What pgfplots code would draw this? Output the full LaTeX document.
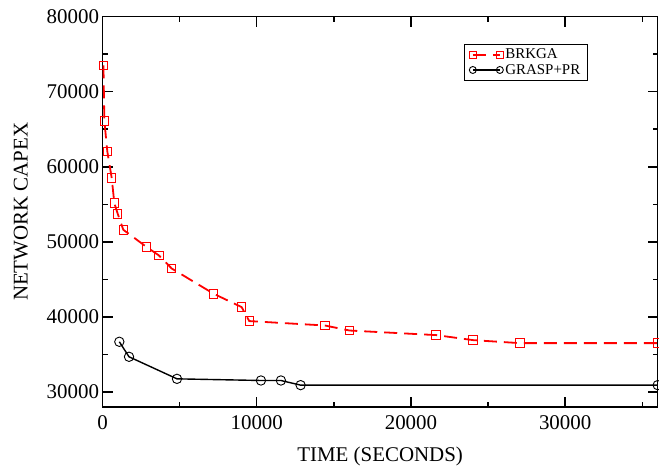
\documentclass[border=0pt]{standalone}
\usepackage{fontspec}
\setmainfont{Liberation Serif}
\usepackage{pgfplots}
\pgfplotsset{compat=1.18}
\pgfplotstableread{
x y
60 73500
117 66130
311 62040
596 58490
765 55160
985 53730
1348 51600
2839 49330
3662 48170
4485 46440
7207 43070
9021 41290
9514 39430
14420 38840
16021 38170
21633 37560
24031 36890
27057 36490
36000 36490
}\brkga
\pgfplotstableread{
x y
1089 36670
1717 34670
4828 31730
10272 31510
11568 31510
12845 30890
36000 30890
}\grasp
\begin{document}
\begin{tikzpicture}
\begin{axis}[
 width=555bp, height=390bp, scale only axis,
 xmin=0, xmax=36000, ymin=28000, ymax=80000,
 xtick={0,10000,20000,30000}, ytick={30000,40000,50000,60000,70000,80000},
 minor xtick={5000,15000,25000,35000}, minor ytick={35000,45000,55000,65000,75000},
 tick align=inside,
 major tick length=10bp, minor tick length=5bp,
 scaled ticks=false,
 axis line style={line width=1.5bp},
 every tick/.style={black, line width=1.5bp},
 /pgf/number format/assume math mode=true,
 /pgf/number format/1000 sep={},
 tick label style={font=\fontsize{21}{23}\selectfont},
 xticklabel style={yshift=-5bp},
 label style={font=\fontsize{21}{23}\selectfont},
 xlabel={TIME (SECONDS)},
 ylabel={NETWORK CAPEX},
 xlabel style={yshift=-11bp},
 ylabel style={yshift=12bp},
 legend style={at={(0.651,0.930)}, anchor=north west, font=\fontsize{15}{16}\selectfont, draw=black, line width=0.8bp, inner xsep=5bp, inner ysep=2.5bp, row sep=0bp},
 legend cell align=left,
 legend image code/.code={\draw[#1, mark size=3.5bp] plot coordinates {(0bp,0bp) (27bp,0bp)};},
 clip=false,
]
\addplot[red, line width=1.8bp, dash pattern=on 13bp off 7bp, mark=square, mark size=4.2bp, mark options={solid, line width=0.9bp, draw=red}] table {\brkga};
\addlegendentry{BRKGA}
\addplot[black, line width=1.4bp, mark=o, mark size=4.7bp, mark options={solid, line width=0.9bp}] table {\grasp};
\addlegendentry{GRASP+PR}
\end{axis}
\pgfresetboundingbox
\path ([xshift=-102.5bp,yshift=-59.3bp]current axis.south west) rectangle ([xshift=1.3bp,yshift=16.7bp]current axis.north east);
\end{tikzpicture}
\end{document}
